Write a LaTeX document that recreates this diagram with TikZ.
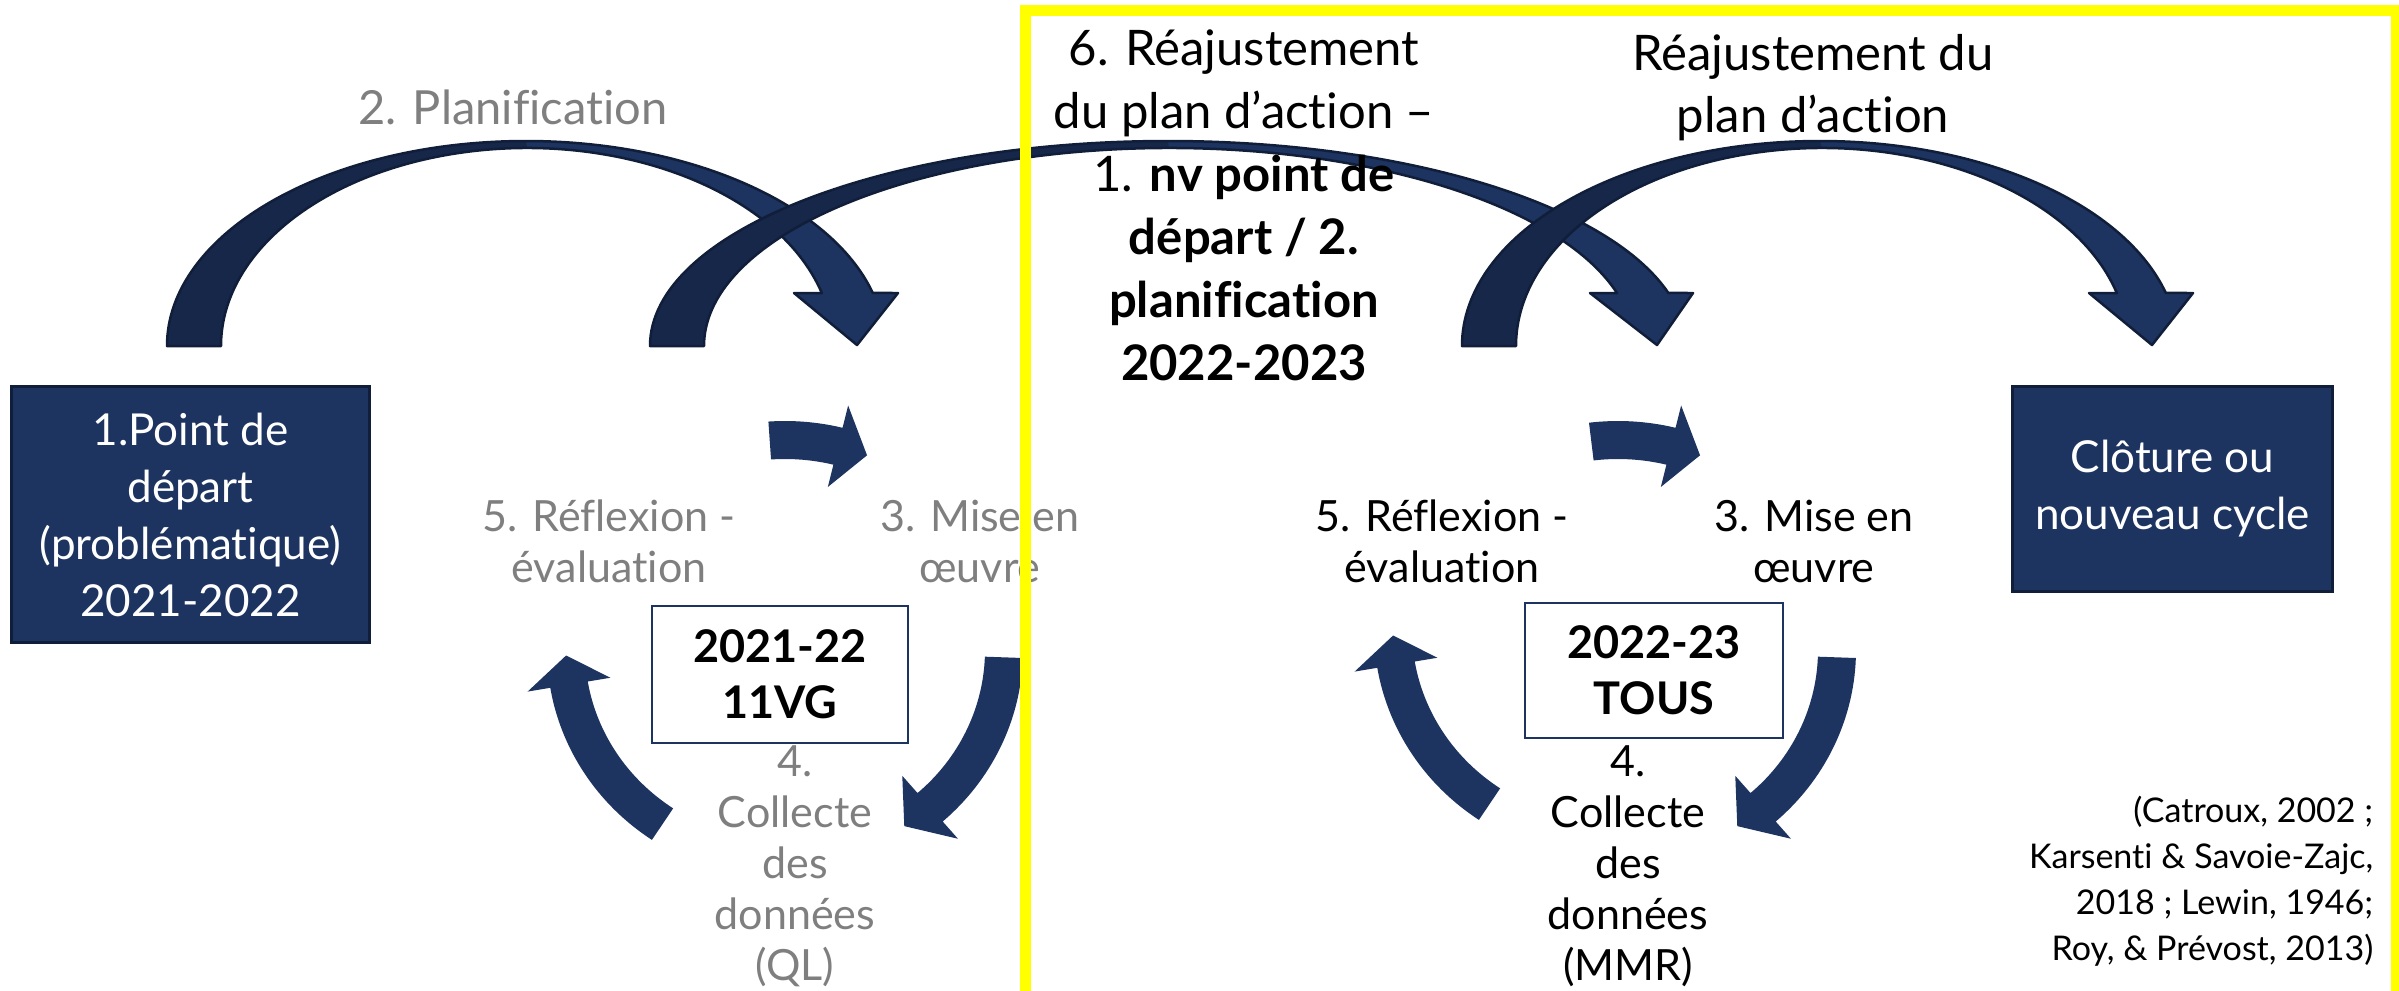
\documentclass[tikz,border=0pt]{standalone}
\usepackage{fontspec}
\setmainfont{Lato}[Ligatures=NoCommon]
\definecolor{navy}{RGB}{29,51,96}
\definecolor{navyd}{RGB}{22,39,74}
\definecolor{navye}{RGB}{16,30,58}
\definecolor{lgray}{RGB}{127,127,127}
\definecolor{yel}{RGB}{255,255,0}
\newcommand\fsz[2]{\fontsize{#1}{#2}\selectfont}
\newcommand\bigarrow[7]{%
  \fill[navy] ({#1-#2},346) arc[start angle=180,end angle=345,x radius=#2,y radius=205]
    -- (#6,293) -- (#7,345) -- (#5,293)
    -- ({#3+#4*cos(344.5)},{346+198*sin(344.5)}) arc[start angle=344.5,end angle=180,x radius=#4,y radius=198] -- cycle;
  \fill[navyd] ({#1-#2},346) arc[start angle=180,end angle=270,x radius=#2,y radius=205]
    -- (#3,148) arc[start angle=270,end angle=180,x radius=#4,y radius=198] -- cycle;
  \draw[navye,line width=0.025cm,line join=round] ({#1-#2},346) arc[start angle=180,end angle=345,x radius=#2,y radius=205]
    -- (#6,293) -- (#7,345) -- (#5,293)
    -- ({#3+#4*cos(344.5)},{346+198*sin(344.5)}) arc[start angle=344.5,end angle=180,x radius=#4,y radius=198] -- cycle;
}
\newcommand\smallarr[3]{%
  \fill[navy] (#1:238 and 229) arc[start angle=#1,end angle=#2,x radius=238,y radius=229]
    -- (#2:261 and 252) -- (#3:219 and 210) -- (#2:177 and 168)
    -- (#2:200 and 191) arc[start angle=#2,end angle=#1,x radius=200,y radius=191] -- cycle;
}
\begin{document}
\begin{tikzpicture}[x=0.01cm,y=-0.01cm,
  lbl/.style={inner sep=0pt,align=center,font=\fsz{0.43cm}{0.51cm}},
  darkbox/.style={fill=navy,draw=navye,line width=0.03cm,text=white,align=center,inner sep=0pt,font=\fsz{0.44cm}{0.57cm}},
  yearbox/.style={fill=white,draw=navy,line width=0.02cm,align=center,inner sep=0pt,font=\bfseries\fsz{0.45cm}{0.56cm}}]
\useasboundingbox (0,0) rectangle (2399,990);
% big curved arrows
\bigarrow{526}{359}{527}{306}{794}{898}{857}
\bigarrow{1168}{518}{1169}{465}{1590}{1693}{1657}
\bigarrow{1820}{358}{1822}{306}{2089}{2193}{2152}
% small cycle arrows
\begin{scope}[shift={(785,650)}]
  \smallarr{-94}{-76}{-68}
  \smallarr{2}{48.5}{57}
  \smallarr{124}{170.5}{178.5}
\end{scope}
\begin{scope}[shift={(1618,650)}]
  \smallarr{-97}{-76}{-68}
  \smallarr{2}{48.5}{57}
\end{scope}
\begin{scope}[shift={(1612,630)}]
  \smallarr{124}{170.5}{178.5}
\end{scope}
% boxes
\node[darkbox,minimum width=3.57cm,minimum height=2.55cm] (depart) at (190.5,514.5) {1.Point de\\départ\\(problématique)\\2021-2022};
\node[darkbox,minimum width=3.19cm,minimum height=2.04cm] (cloture) at (2172.5,489) {Clôture ou\\nouveau cycle};
\node[yearbox,minimum width=2.56cm,minimum height=1.37cm] (y1) at (780,674.5) {2021-22\\11VG};
\node[yearbox,minimum width=2.58cm,minimum height=1.35cm] (y2) at (1654,670.5) {2022-23\\TOUS};
% labels
\node[lbl,text=lgray,font=\fsz{0.47cm}{0.55cm}] (plan) at (513,107) {2. Planification};
\node[lbl,text=lgray] (refl1) at (609,541) {5. Réflexion -\\évaluation};
\node[lbl,text=lgray] (mise1) at (980,541) {3. Mise en\\œuvre};
\node[lbl,text=lgray] (coll1) at (795,866) {4.\\Collecte\\des\\données\\(QL)};
\node[lbl] (refl2) at (1442,541) {5. Réflexion -\\évaluation};
\node[lbl] (mise2) at (1814,541) {3. Mise en\\œuvre};
\node[lbl] (coll2) at (1628,866) {4.\\Collecte\\des\\données\\(MMR)};
\node[lbl,font=\fsz{0.49cm}{0.63cm}] (reaj1) at (1244,205) {6. Réajustement\\du plan d’action –\\1. \textbf{nv point de}\\\textbf{départ / 2.}\\\textbf{planification}\\\textbf{2022-2023}};
\node[lbl,font=\fsz{0.49cm}{0.62cm}] (reaj2) at (1813,88) {Réajustement du\\plan d’action};
\node[lbl,align=right,anchor=east,font=\fsz{0.34cm}{0.46cm}] (cit) at (2374,881) {(Catroux, 2002 ;\\Karsenti \& Savoie-Zajc,\\2018 ; Lewin, 1946;\\Roy, \& Prévost, 2013)};
% yellow frame
\draw[yel,line width=0.11cm,line join=miter] (1025,1000) -- (1025,10) -- (2396,10) -- (2396,1000);
\end{tikzpicture}
\end{document}
